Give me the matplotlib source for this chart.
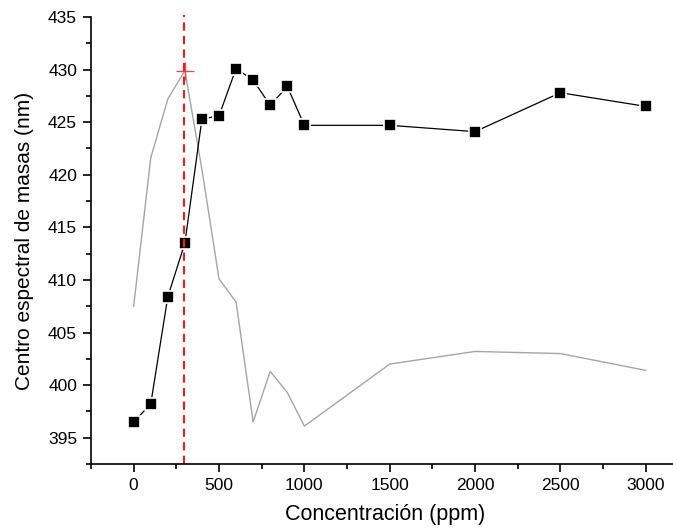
import numpy as np
import matplotlib.pyplot as plt
from matplotlib.ticker import MultipleLocator

# Datos
conc = [0, 100, 200, 300, 400, 500, 600, 700, 800, 900, 1000, 1500, 2000, 2500, 3000]
centro = [396.5, 398.2, 408.4, 413.5, 425.3, 425.6, 430.1, 429.0, 426.6, 428.4,
          424.7, 424.7, 424.1, 427.8, 426.5]
gris = [407.5, 421.6, 427.2, 429.9, 420.5, 410.1, 407.9, 396.5, 401.3, 399.3,
        396.1, 402.0, 403.2, 403.0, 401.4]
pico_x, pico_y = 300, 429.9
linea_x = 292

plt.rcParams['font.family'] = ['Liberation Sans', 'DejaVu Sans']

fig = plt.figure(figsize=(6.73, 5.31), dpi=100)
ax = fig.add_axes([0.1352, 0.1262, 0.875, 0.8418])

ax.plot(conc, gris, color='#a6a6a6', linewidth=1.0)
ax.plot([pico_x], [pico_y], marker='+', color='#ff4040', markersize=13, markeredgewidth=0.9)
ax.plot(conc, centro, color='black', linewidth=0.9, marker='s', markersize=8,
        markerfacecolor='black', markeredgecolor='white', markeredgewidth=1.2)
ax.axvline(linea_x, color='#ff1a1a', linestyle=(0, (4, 2.5)), linewidth=1.5, ymax=1.005, clip_on=False)

ax.set_xlim(-250, 3200)
ax.set_ylim(392.5, 435)
ax.xaxis.set_major_locator(MultipleLocator(500))
ax.xaxis.set_minor_locator(MultipleLocator(250))
ax.yaxis.set_major_locator(MultipleLocator(5))
ax.yaxis.set_minor_locator(MultipleLocator(2.5))

ax.spines['top'].set_visible(False)
ax.spines['right'].set_visible(False)
ax.spines['left'].set_linewidth(1.2)
ax.spines['bottom'].set_linewidth(1.2)
ax.tick_params(which='major', direction='out', length=6, width=1.2, labelsize=12.5, pad=4)
ax.tick_params(which='minor', direction='out', length=3.5, width=1.2)

ax.set_xlabel('Concentración (ppm)', fontsize=15.5, labelpad=8)
ax.set_ylabel('Centro espectral de masas (nm)', fontsize=15, labelpad=10)

fig.savefig('out.png', dpi=100)
